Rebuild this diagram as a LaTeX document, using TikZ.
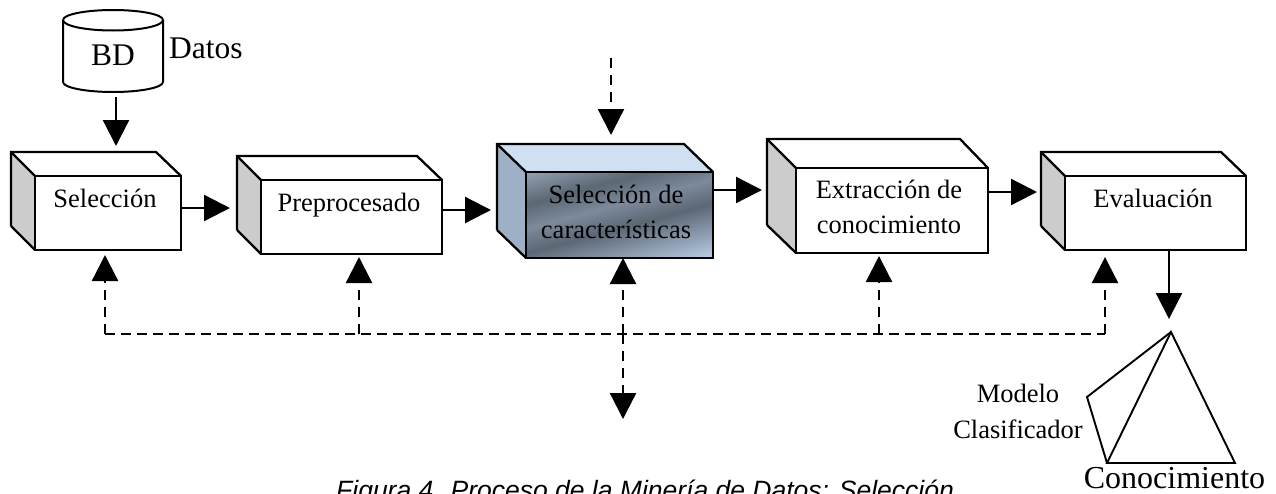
\documentclass[tikz,border=0pt]{standalone}
\usepackage{fontspec}
\setmainfont{Liberation Serif}
\newfontfamily\capfont{Liberation Sans}
\usetikzlibrary{arrows.meta,calc}
\definecolor{sidegray}{HTML}{CCCCCC}
\definecolor{topblue}{HTML}{CFE0F3}
\definecolor{sideblue}{HTML}{9DB0C6}
\definecolor{gA}{HTML}{C0D4EE}
\definecolor{gC}{HTML}{5C6774}
\definecolor{gD}{HTML}{7C8A9B}
\definecolor{gE}{HTML}{A4B2C4}
\pgfdeclareverticalshading{frontshade}{100bp}{
 color(0bp)=(gA); color(18bp)=(gA); color(44bp)=(gC); color(55bp)=(gD); color(66bp)=(gC); color(85bp)=(gE); color(100bp)=(gE)}
\tikzset{
 x=1pt,y=-1pt,
 face/.style={draw=black,line width=2.3pt,line join=miter},
 front/.style={face,fill=white,rectangle,inner sep=0pt,outer sep=0pt,anchor=north west},
 arr/.style={line width=2.3pt,-{Triangle[length=26pt,width=26pt]}},
 darr/.style={arr,dash pattern=on 10pt off 7pt},
 dline/.style={line width=2.3pt,dash pattern=on 10pt off 6pt},
 lab/.style={font=\fontsize{26.5pt}{30pt}\selectfont,anchor=base,inner sep=0pt},
 big/.style={font=\fontsize{31.5pt}{36pt}\selectfont,anchor=base,inner sep=0pt},
}
\newcommand{\mybox}[6]{%
 \fill[sidegray] (#1,#2) -- (#3,#4) -- (#3,#6) -- (#1,#6-#4+#2) -- cycle;
 \draw[face] (#1,#6-#4+#2) -- (#1,#2) -- (#5-25,#2) -- (#5,#4);
 \draw[face] (#1,#2) -- (#3,#4);
 \draw[face] (#1,#6-#4+#2) -- (#3,#6);
}
\begin{document}
\begin{tikzpicture}
\useasboundingbox (0,0) rectangle (1276,493);
% database
\draw[line width=2pt,fill=white] (63,20) -- (63,82) arc[start angle=180,end angle=360,x radius=50,y radius=-10] -- (163,20) arc[start angle=0,end angle=180,x radius=50,y radius=-10];
\draw[line width=2pt] (63,20) arc[start angle=180,end angle=360,x radius=50,y radius=-10.5];
\node[big] (bd) at (113,65) {BD};
\node[big,anchor=base west] (datos) at (169,58) {Datos};
\coordinate (bdout) at (116,97);
% boxes
\mybox{11}{152}{35}{176}{181}{250}
\node[front,minimum width=146pt,minimum height=74pt] (sel) at (35,176) {};
\node[lab] (tsel) at (105,207) {Selección};
\mybox{237}{156}{261}{180}{442}{254}
\node[front,minimum width=181pt,minimum height=74pt] (pre) at (261,180) {};
\node[lab] (tpre) at (349,211) {Preprocesado};
\fill[topblue] (497,144) -- (684,144) -- (713,172) -- (526,172) -- cycle;
\fill[sideblue] (497,144) -- (526,172) -- (526,258) -- (497,230) -- cycle;
\draw[face] (497,230) -- (497,144) -- (684,144) -- (713,172);
\draw[face] (497,144) -- (526,172);
\draw[face] (497,230) -- (526,258);
\node[front,minimum width=187pt,minimum height=86pt,shade,shading=frontshade,shading angle=15] (car) at (526,172) {};
\draw[face] (car.north west) rectangle (car.south east);
\node[lab] (tcar1) at (616,203) {Selección de};
\node[lab] (tcar2) at (616,238) {características};
\fill[sidegray] (767,139) -- (796,168) -- (796,253) -- (767,225) -- cycle;
\draw[face] (767,225) -- (767,139) -- (960,139) -- (988,168);
\draw[face] (767,139) -- (796,168);
\draw[face] (767,225) -- (796,253);
\node[front,minimum width=192pt,minimum height=85pt] (ext) at (796,168) {};
\node[lab] (text1) at (889,198) {Extracción de};
\node[lab] (text2) at (889,233) {conocimiento};
\mybox{1041}{152}{1065}{176}{1246}{250}
\node[front,minimum width=181pt,minimum height=74pt] (eva) at (1065,176) {};
\node[lab] (teva) at (1153,207) {Evaluación};
% solid connectors
\coordinate (selin) at (116,146);
\draw[arr] (bdout) -- (selin);
\coordinate (prein) at (230,208);
\draw[arr] (sel.east |- prein) -- (prein);
\coordinate (carin) at (491,210);
\draw[arr] (pre.east |- carin) -- (carin);
\coordinate (extin) at (762,190);
\draw[arr] (car.east |- extin) -- (extin);
\coordinate (evain) at (1037,192);
\draw[arr] (ext.east |- evain) -- (evain);
\coordinate (evaout) at (1169,319);
\draw[arr] (eva.south -| evaout) -- (evaout);
% dashed bus
\coordinate (busl) at (105,334);
\coordinate (busr) at (1105,334);
\draw[dline] (busl) -- (busr);
\coordinate (a1) at (105,255);
\coordinate (a2) at (359,257);
\coordinate (a3) at (623,258);
\coordinate (a4) at (879,256);
\coordinate (a5) at (1105,257);
\coordinate (a6) at (623,419);
\coordinate (a7) at (611,135);
\coordinate (a7s) at (611,58);
\foreach \t in {a1,a2,a3,a4,a5} {\draw[darr] (busl -| \t) -- (\t);}
\draw[darr] (busl -| a6) -- (a6);
\draw[darr] (a7s) -- (a7);
% pyramid
\coordinate (pt) at (1171,332);
\coordinate (pl) at (1107,463);
\coordinate (pr) at (1235,463);
\coordinate (pb) at (1087,397);
\draw[line width=1.9pt,line join=miter] (pt) -- (pr) -- (pl) -- cycle;
\draw[line width=1.9pt,line join=miter] (pt) -- (pb) -- (pl);
\node[lab] (mod) at (1018,402) {Modelo};
\node[lab] (cla) at (1018,438) {Clasificador};
\node[font=\fontsize{32pt}{36pt}\selectfont,anchor=base,inner sep=0pt] (con) at (1174.5,488) {Conocimiento};
\node[font=\capfont\itshape\fontsize{26.5pt}{30pt}\selectfont,anchor=base west,inner sep=0pt] (capt) at (336,499) {Figura 4. Proceso de la Minería de Datos: Selección};
\end{tikzpicture}
\end{document}
